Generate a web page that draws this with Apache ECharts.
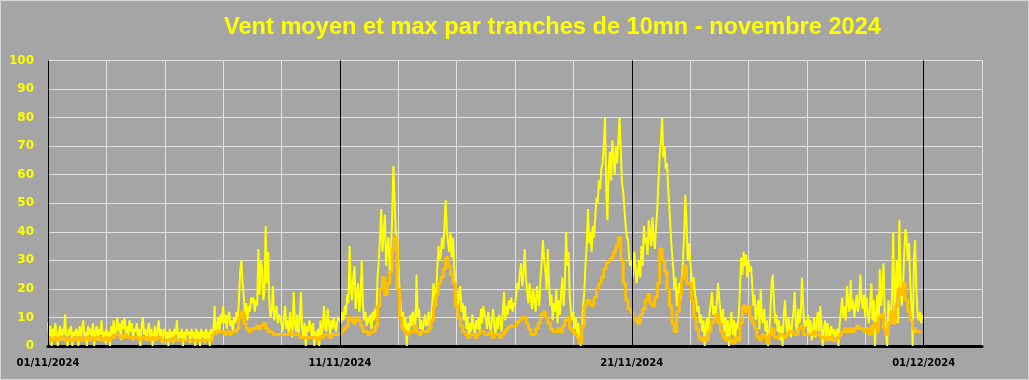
<!DOCTYPE html>
<html>
<head>
<meta charset="utf-8">
<script src="https://cdn.jsdelivr.net/npm/echarts@6/dist/echarts.min.js"></script>
<style>
html,body{margin:0;padding:0;background:#a5a5a5;}
#wrap{width:1029px;height:380px;box-sizing:border-box;border:1px solid #d6d6d6;background:#a5a5a5;}
#chart{width:1027px;height:378px;}
</style>
</head>
<body>
<div id="wrap"><div id="chart"></div></div>
<script>
// Chart texts
const titleText = 'Vent moyen et max par tranches de 10mn - novembre 2024';
const dateLabels = ['01/11/2024', '11/11/2024', '21/11/2024', '01/12/2024'];
const labelHours = [0, 240, 480, 720];

// Max wind, one value per hour (24 per day), 1 -> 30 November 2024
const maxWind = [
  8,3,7,0,6,2,8,4,0,5,7,2,6,4,11,3,0,6,4,7,0,5,3,6,
  5,0,7,3,6,9,2,5,0,7,4,6,3,8,0,5,7,2,6,4,9,3,5,1,
  6,2,5,0,7,4,9,3,6,10,5,8,2,9,6,10,4,7,3,9,5,8,2,6,
  5,8,3,6,0,7,10,4,6,2,5,8,3,6,0,4,7,2,5,9,3,6,1,5,
  6,2,5,0,6,3,5,1,6,4,9,2,5,3,6,0,5,2,6,4,5,1,6,3,
  5,0,6,2,5,0,6,3,5,1,6,2,5,0,6,3,5,14,4,7,10,5,11,8,
  14,8,11,6,10,12,7,9,5,10,8,12,9,16,26,30,22,17,11,15,9,14,12,17,
  15,17,12,16,14,34,18,30,27,16,19,42,22,33,15,10,13,21,9,12,14,8,11,10,
  8,5,10,14,6,9,4,12,7,3,19,8,5,11,4,9,19,6,3,8,0,7,5,9,
  7,3,8,0,5,2,6,0,9,4,7,14,6,5,13,8,4,9,6,10,7,5,9,10,
  10,8,12,9,14,11,18,15,35,20,16,24,28,13,18,22,12,17,30,14,9,12,7,10,
  8,11,6,12,9,13,10,24,30,38,48,33,40,46,28,35,38,26,32,45,63,51,40,37,
  30,20,14,9,12,6,10,0,8,5,11,7,12,9,6,25,10,13,6,9,5,8,11,7,
  8,12,6,10,15,22,18,14,26,35,30,32,38,34,42,51,40,36,33,40,31,38,28,21,
  20,14,18,21,12,15,9,14,6,10,3,8,5,11,7,4,9,6,10,5,13,8,14,11,
  10,6,12,8,5,9,13,7,4,10,6,11,8,5,12,19,9,14,11,16,13,17,12,15,
  14,18,22,20,26,29,21,25,34,24,19,15,22,17,13,20,16,12,21,18,14,24,30,37,
  30,26,20,34,22,14,18,9,15,12,20,8,16,11,19,24,14,22,40,28,33,18,12,9,
  12,6,10,4,8,2,0,5,14,19,29,35,48,36,40,33,42,38,45,52,50,58,55,62,
  64,70,80,55,44,62,68,58,72,66,60,70,64,72,80,68,57,54,48,42,38,37,30,28,
  30,24,33,28,22,26,30,24,35,28,42,36,38,32,44,40,35,45,38,34,42,48,58,67,
  72,80,66,70,62,64,55,48,40,33,28,20,24,14,18,22,16,20,29,38,53,44,30,36,
  30,25,20,24,18,16,12,14,8,11,5,9,0,7,10,4,12,15,19,11,14,9,16,22,
  16,12,8,13,5,10,3,9,0,7,12,4,9,2,8,6,11,20,31,25,33,28,32,24,
  30,26,28,22,14,18,9,12,16,6,20,10,8,13,5,9,0,4,12,22,25,15,8,11,
  5,9,2,7,0,11,16,8,4,10,6,3,9,12,19,7,5,13,8,11,24,14,6,9,
  7,11,4,9,2,6,10,3,8,12,5,14,7,0,6,9,3,8,5,2,7,4,6,3,
  3,6,0,8,12,17,10,14,9,21,15,12,23,13,16,10,14,18,12,15,25,16,13,18,
  10,17,12,8,14,22,9,16,0,12,18,7,27,14,20,29,11,5,0,16,12,8,18,40,
  12,22,30,8,44,25,14,20,32,41,38,30,36,22,14,0,30,37,20,11,9,12,8,11
];

// Mean wind, one value per 2 hours (12 per day), 1 -> 30 November 2024
const meanWind = [
  3,3,2,3,2,3,3,2,3,2,2,3,
  2,3,2,3,3,2,3,2,3,3,2,2,
  3,2,3,3,4,4,3,3,4,3,3,3,
  3,3,2,3,3,3,2,3,2,3,3,2,
  2,2,2,2,3,2,2,2,2,2,2,2,
  2,2,2,2,2,2,2,2,4,5,5,5,
  5,4,5,4,5,5,6,10,12,8,6,5,
  6,6,7,6,7,8,6,5,5,4,4,4,
  4,4,4,4,5,4,4,4,3,3,3,3,
  3,3,3,2,3,3,4,4,3,4,4,4,
  4,5,6,7,10,9,8,10,9,7,5,5,
  4,5,5,7,14,20,24,18,22,26,34,38,
  20,10,6,5,4,5,5,7,5,4,5,5,
  5,6,9,14,18,22,24,27,31,28,25,22,
  14,10,7,5,4,3,4,4,3,4,5,5,
  4,4,5,3,4,4,3,4,5,6,7,7,
  7,8,9,10,10,8,6,4,4,6,8,11,
  12,10,8,6,5,5,6,5,7,9,10,6,
  5,4,3,1,7,14,16,15,14,17,20,22,
  24,27,29,30,31,33,35,38,30,22,16,13,
  12,10,9,8,11,13,16,18,15,14,17,22,
  34,30,26,20,14,8,5,12,18,24,28,22,
  22,16,10,6,3,2,3,2,5,8,9,11,
  8,5,3,2,3,2,1,3,2,8,14,12,
  14,10,8,6,3,2,4,3,1,4,6,3,
  3,4,4,3,4,5,5,4,4,6,7,4,
  4,4,4,5,4,4,3,3,2,3,3,2,
  2,3,4,5,6,5,6,5,6,7,6,6,
  5,6,4,7,8,5,10,11,6,4,8,12,
  8,14,20,18,22,16,12,9,6,5,5,5
];

const maxData = maxWind.map((v, i) => [i, v]);
const meanData = meanWind.map((v, i) => [i * 2, v]);

const chart = echarts.init(document.getElementById('chart'), null, {renderer: 'canvas'});
chart.setOption({
  animation: false,
  backgroundColor: '#a5a5a5',
  title: {
    text: titleText,
    left: 218,
    top: 9,
    textStyle: {color: '#ffff00', fontFamily: 'Liberation Sans', fontWeight: 'bold', fontSize: 23.6}
  },
  grid: {left: 47, right: 46, top: 59.5, bottom: 33, containLabel: false},
  xAxis: {
    type: 'value',
    min: 0,
    max: 768,
    interval: 48,
    axisLine: {show: true, onZero: false, lineStyle: {color: '#000000', width: 3}},
    axisTick: {show: false},
    splitLine: {show: true, lineStyle: {color: '#e2e2e2', width: 1}},
    axisLabel: {
      color: '#000000',
      fontFamily: 'DejaVu Sans',
      fontWeight: 'bold',
      fontSize: 10,
      margin: 12,
      showMinLabel: true,
      formatter: function (v) {
        const k = labelHours.indexOf(v);
        return k >= 0 ? dateLabels[k] : '';
      }
    }
  },
  yAxis: {
    type: 'value',
    min: 0,
    max: 100,
    interval: 10,
    axisLine: {show: false},
    axisTick: {show: false},
    splitLine: {show: true, lineStyle: {color: '#e2e2e2', width: 1}},
    axisLabel: {color: '#ffff00', fontFamily: 'DejaVu Sans', fontWeight: 'bold', fontSize: 12, margin: 14}
  },
  series: [
    {
      name: 'max',
      type: 'line',
      data: maxData,
      showSymbol: false,
      symbol: 'none',
      lineStyle: {color: '#ffff00', width: 2},
      z: 2
    },
    {
      name: 'moyen',
      type: 'line',
      data: meanData,
      step: 'middle',
      showSymbol: false,
      symbol: 'none',
      lineStyle: {color: '#ffc000', width: 3},
      z: 3
    },
    {
      name: 'separators',
      type: 'line',
      data: [],
      z: 5,
      markLine: {
        silent: true,
        symbol: ['none', 'none'],
        label: {show: false},
        lineStyle: {color: '#000000', width: 1, type: 'solid'},
        data: labelHours.map(h => ({xAxis: h}))
      }
    }
  ]
});
</script>
</body>
</html>
